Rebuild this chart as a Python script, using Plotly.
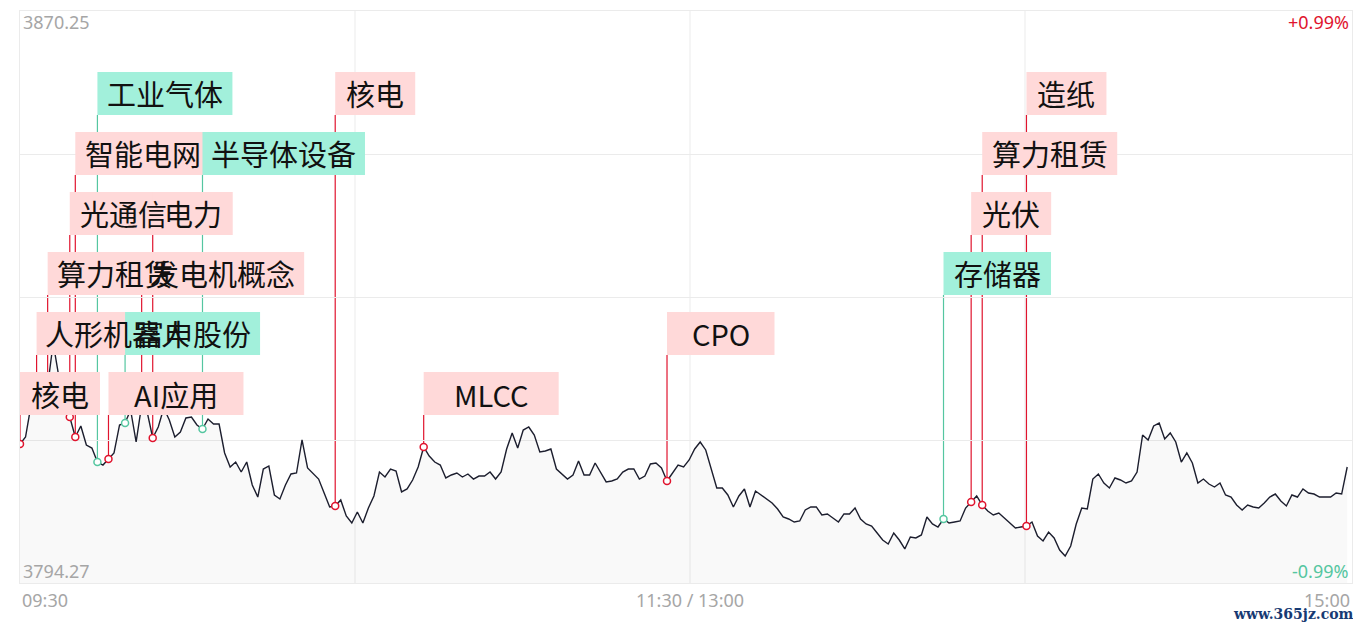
import plotly.graph_objs as go

# 分时数据（每分钟一个点，09:30 - 11:30 / 13:00 - 15:00）
prices = [
    3812.73, 3813.66, 3817.91, 3819.91, 3819.24, 3820.44, 3826.15, 3821.77, 3818.58, 3816.32,
    3813.66, 3815.13, 3812.60, 3812.20, 3810.34, 3809.94, 3810.74, 3811.54, 3815.26, 3815.52,
    3817.25, 3813.00, 3817.91, 3816.98, 3813.53, 3814.99, 3817.52, 3815.92, 3813.66, 3814.33,
    3816.19, 3816.32, 3815.26, 3814.73, 3816.05, 3815.39, 3815.39, 3811.54, 3809.68, 3810.34,
    3809.01, 3810.34, 3807.29, 3805.69, 3809.41, 3809.81, 3805.96, 3805.43, 3807.29, 3808.75,
    3808.88, 3813.27, 3809.55, 3808.88, 3808.08, 3806.22, 3804.37, 3804.50, 3805.30, 3803.17,
    3802.24, 3803.70, 3802.24, 3804.23, 3805.83, 3809.01, 3808.35, 3809.41, 3809.15, 3806.36,
    3806.76, 3807.95, 3809.68, 3812.34, 3811.14, 3810.34, 3809.94, 3808.22, 3808.62, 3808.88,
    3808.35, 3808.75, 3808.08, 3808.48, 3808.48, 3809.01, 3808.08, 3809.01, 3812.07, 3814.20,
    3812.20, 3814.59, 3814.99, 3813.93, 3811.67, 3811.80, 3812.07, 3809.41, 3808.75, 3808.08,
    3808.62, 3810.48, 3808.62, 3808.62, 3810.21, 3808.88, 3807.69, 3807.82, 3808.08, 3809.01,
    3809.41, 3809.41, 3808.08, 3808.48, 3810.08, 3810.21, 3809.55, 3807.82, 3808.88, 3809.94,
    3809.68, 3810.61, 3812.07, 3813.00, 3811.94, 3809.55, 3806.89, 3806.89, 3805.96, 3804.37,
    3805.83, 3806.76, 3804.37, 3806.49, 3805.96, 3805.43, 3804.90, 3804.10, 3803.04, 3802.77,
    3802.37, 3802.51, 3803.97, 3804.37, 3804.37, 3803.30, 3803.44, 3802.90, 3802.37, 3803.44,
    3803.44, 3804.23, 3802.77, 3802.11, 3801.84, 3800.91, 3799.98, 3799.45, 3800.91, 3799.98,
    3798.79, 3800.38, 3800.25, 3800.65, 3803.04, 3802.11, 3801.71, 3802.77, 3802.24, 3802.37,
    3802.51, 3804.23, 3805.03, 3805.83, 3804.63, 3803.83, 3803.30, 3803.57, 3802.90, 3802.24,
    3801.58, 3801.71, 3801.84, 3802.37, 3800.51, 3799.85, 3801.04, 3800.25, 3798.65, 3797.86,
    3799.18, 3802.11, 3804.23, 3804.10, 3808.08, 3808.75, 3807.55, 3806.89, 3808.22, 3807.95,
    3807.55, 3807.82, 3809.01, 3813.93, 3813.27, 3815.13, 3815.52, 3813.40, 3814.20, 3813.00,
    3810.34, 3811.54, 3810.21, 3807.55, 3808.08, 3807.42, 3807.02, 3807.55, 3805.96, 3805.69,
    3804.63, 3803.97, 3804.63, 3804.37, 3804.23, 3804.90, 3805.69, 3806.09, 3805.16, 3804.50,
    3805.96, 3805.69, 3806.76, 3806.22, 3806.09, 3805.69, 3805.69, 3805.69, 3806.22, 3806.09,
    3809.68,
]
minutes = list(range(len(prices)))

# 异动标签：分钟序号、板块名称、方向（1 拉升 / -1 下跌）
event_minutes = [0, 3, 5, 9, 10, 14, 16, 19, 22, 24, 33, 57, 73, 117, 167, 172, 174, 182]
event_names = ["核电", "人形机器人", "算力租赁", "光通信", "智能电网", "工业气体", "AI应用", "富申股份",
               "发电机概念", "电力", "半导体设备", "核电", "MLCC", "CPO", "存储器", "光伏", "算力租赁", "造纸"]
event_dirs = [1, 1, 1, 1, 1, -1, 1, -1, 1, 1, -1, 1, 1, 1, -1, 1, 1, 1]

y_low = 3794.27
y_high = 3870.25
pct_low = "-0.99%"
pct_high = "+0.99%"
time_labels = ["09:30", "11:30 / 13:00", "15:00"]

RED = "#e0142e"
GREEN = "#55c6a0"
PINK_BG = "#ffd9d9"
GREEN_BG = "#a2f0db"
GRID = "#ebebeb"

# 页面 body 自带 8px 外边距，尺寸和边距按此扣掉
W, H = 1353, 619
M_L, M_R, M_T, M_B = 12, 9, 3, 44
plot_w = W - M_L - M_R
plot_h = H - M_T - M_B
px_per_min = 5.53


def row_bottom(r):
    # 标签分 6 层，从下往上，每层间隔 60px
    return (168 + 60 * r) / plot_h


def build():
    fig = go.Figure()

    fig.add_trace(go.Scatter(
        x=minutes, y=prices, mode="lines",
        line=dict(color="#1c1e2e", width=1.4),
        fill="tozeroy", fillcolor="rgba(0,0,0,0.022)",
        hoverinfo="x+y", showlegend=False
    ))

    shapes = []
    annos = []
    box_h = 43 / plot_h
    mk_x, mk_y, mk_c = [], [], []
    for k, (m, name, d) in enumerate(zip(event_minutes, event_names, event_dirs)):
        r = k % 6
        yb = row_bottom(r)
        color = RED if d > 0 else GREEN
        bg = PINK_BG if d > 0 else GREEN_BG
        p = prices[m]
        label_y = y_low + yb * (y_high - y_low)
        # 引线
        shapes.append(dict(type="line", xref="x", yref="y", x0=m, x1=m, y0=p, y1=label_y,
                           line=dict(color=color, width=1.2), layer="below"))
        w = len(name) * 27.5 + 25
        shapes.append(dict(type="rect", xref="x", yref="paper", xsizemode="pixel", xanchor=m,
                           x0=0, x1=w, y0=yb, y1=yb + box_h,
                           fillcolor=bg, line=dict(width=0), layer="above"))
        annos.append(dict(x=m, y=yb + box_h / 2, xref="x", yref="paper", text=name,
                          showarrow=False, xanchor="center", yanchor="middle", xshift=w / 2,
                          font=dict(family="Noto Sans CJK SC", size=29, color="#111111")))
        mk_x.append(m)
        mk_y.append(p)
        mk_c.append(color)

    fig.add_trace(go.Scatter(
        x=mk_x, y=mk_y, mode="markers",
        marker=dict(symbol="circle", size=7, color="white", line=dict(color=mk_c, width=1.5)),
        hoverinfo="skip", showlegend=False
    ))

    # 纵向网格
    for fx in [335 / plot_w, 670 / plot_w, 1005 / plot_w]:
        shapes.append(dict(type="line", xref="paper", yref="paper", x0=fx, x1=fx, y0=0, y1=1,
                           line=dict(color=GRID, width=1), layer="below"))

    small = dict(family="Noto Sans", size=18, color="#a6a6a6")
    annos += [
        dict(x=0, y=1, xref="paper", yref="paper", text=f"{y_high:.2f}", showarrow=False,
             xanchor="left", yanchor="top", xshift=1, yshift=3, font=small),
        dict(x=0, y=0, xref="paper", yref="paper", text=f"{y_low:.2f}", showarrow=False,
             xanchor="left", yanchor="bottom", xshift=1, yshift=-2, font=small),
        dict(x=1, y=1, xref="paper", yref="paper", text=pct_high, showarrow=False,
             xanchor="right", yanchor="top", xshift=-1, yshift=3, font=dict(small, color=RED)),
        dict(x=1, y=0, xref="paper", yref="paper", text=pct_low, showarrow=False,
             xanchor="right", yanchor="bottom", xshift=-1, yshift=-2, font=dict(small, color=GREEN)),
        dict(x=0, y=0, xref="paper", yref="paper", text=time_labels[0], showarrow=False,
             xanchor="left", yanchor="top", yshift=-3, font=small),
        dict(x=670 / plot_w, y=0, xref="paper", yref="paper", text=time_labels[1], showarrow=False,
             xanchor="center", yanchor="top", yshift=-3, font=small),
        dict(x=1, y=0, xref="paper", yref="paper", text=time_labels[2], showarrow=False,
             xanchor="right", yanchor="top", yshift=-3, font=small),
        dict(x=1, y=0, xref="paper", yref="paper", text="<b>www.365jz.com</b>", showarrow=False,
             xanchor="right", yanchor="top", yshift=-21, xshift=4,
             font=dict(family="DejaVu Serif", size=14, color="#173a73")),
    ]

    span = y_high - y_low
    layout = go.Layout(
        width=W, height=H,
        margin=dict(l=M_L, r=M_R, t=M_T, b=M_B),
        paper_bgcolor="white", plot_bgcolor="white",
        xaxis=dict(range=[0, plot_w / px_per_min], showgrid=False, zeroline=False,
                   showticklabels=False, showline=True, mirror=True, linecolor=GRID),
        yaxis=dict(range=[y_low, y_high], tickvals=[y_low + span * q / 4 for q in range(5)],
                   showgrid=True, gridcolor=GRID, zeroline=False, showticklabels=False,
                   showline=True, mirror=True, linecolor=GRID),
        shapes=shapes, annotations=annos, showlegend=False
    )
    fig.update_layout(layout)
    return fig


fig = build()
fig.write_html("out.html")
